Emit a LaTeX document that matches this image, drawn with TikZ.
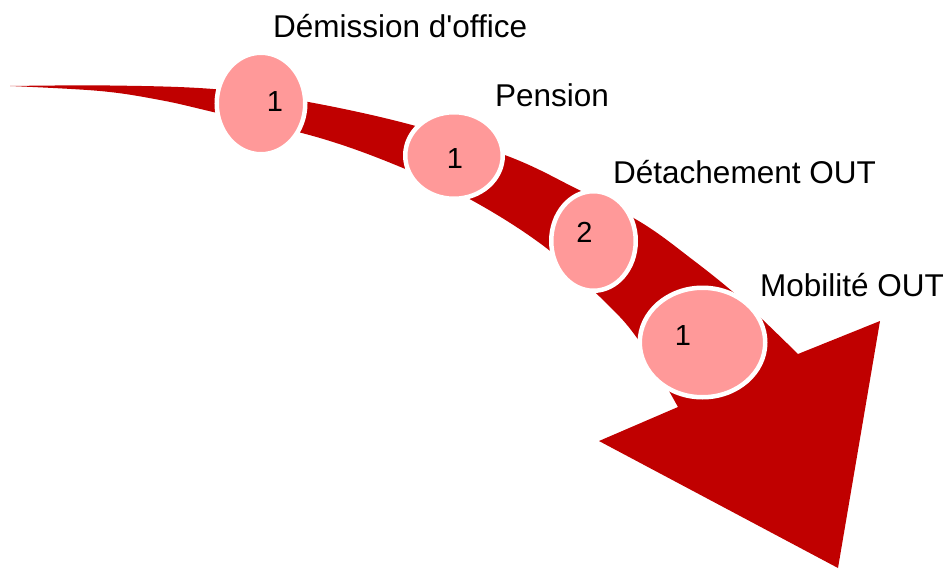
\documentclass[tikz,border=0pt]{standalone}
\usepackage{fontspec}
\setmainfont{Liberation Sans}
\usetikzlibrary{shapes.geometric}
\definecolor{arrowred}{RGB}{192,0,0}
\definecolor{bubble}{RGB}{255,153,153}
\begin{document}
\begin{tikzpicture}[x=1pt,y=-1pt,
  bub/.style={ellipse, fill=bubble, draw=white, line width=4.5pt, inner sep=0pt},
  lbl/.style={anchor=base west, inner sep=0pt, font=\fontsize{31.5}{37}\selectfont},
  num/.style={anchor=base, inner sep=0pt, font=\fontsize{29}{34}\selectfont}]
\useasboundingbox (0,0) rectangle (951,570);
% curved tapering arrow
\fill[arrowred] plot[smooth, tension=0.6] coordinates {(10,86) (110,85.5) (213,89) (303,101) (412,125) (510,157) (577,189) (642,223) (693,260) (733,292) (763,320) (798,354)}
  -- (880,321) -- (838,568) -- (599,441) -- (678,407)
  -- plot[smooth, tension=0.6] coordinates {(678,407) (637,338) (600,297) (545,247) (475,202) (403,168) (320,138) (213,112) (160,100) (100,91) (10,86)} -- cycle;
% bubbles
\node[bub, minimum width=88.5pt, minimum height=101.5pt] (c1) at (261,103.5) {};
\node[bub, minimum width=97.5pt, minimum height=86.5pt] (c2) at (454,155.5) {};
\node[bub, minimum width=84.5pt, minimum height=99.5pt] (c3) at (593.5,241) {};
\node[bub, minimum width=125.5pt, minimum height=109.5pt] (c4) at (702.5,342.5) {};
% numbers
\node[num] (n1) at (275,111.5) {1};
\node[num] (n2) at (455,168) {1};
\node[num] (n3) at (584.5,242) {2};
\node[num] (n4) at (683,345) {1};
% labels
\node[lbl] (l1) at (273,37.7) {Démission d\textquotesingle office};
\node[lbl] (l2) at (495,106.7) {Pension};
\node[lbl] (l3) at (613,183) {Détachement OUT};
\node[lbl] (l4) at (760,296) {Mobilité OUT};
\end{tikzpicture}
\end{document}
